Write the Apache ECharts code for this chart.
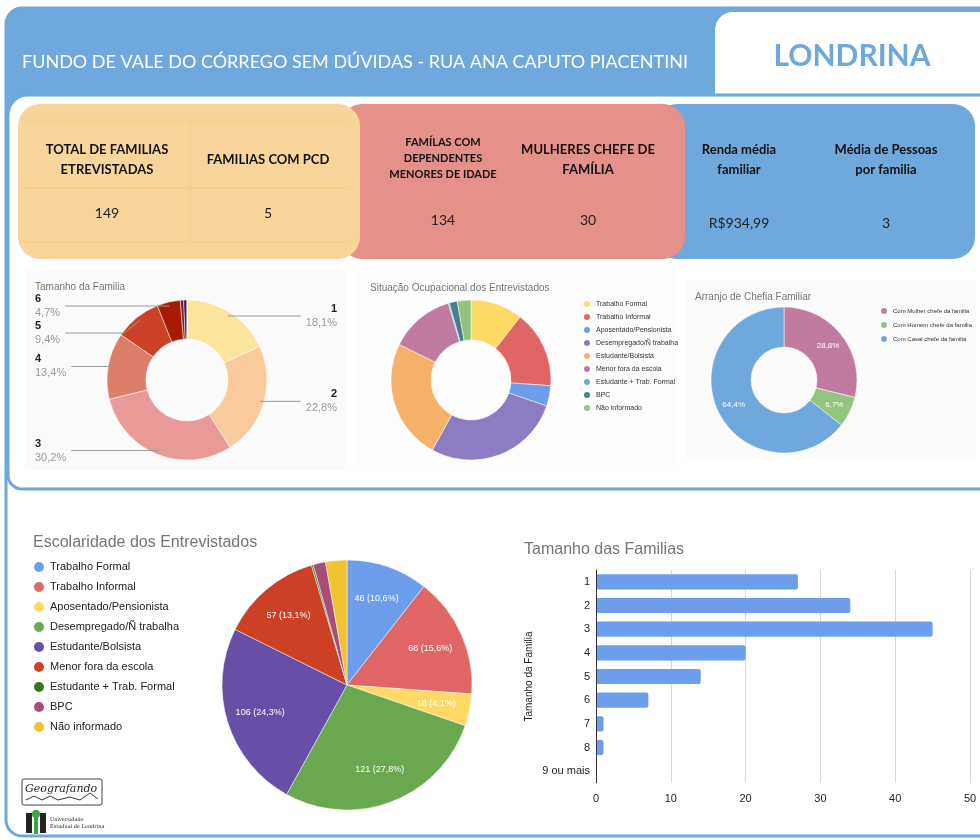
<!DOCTYPE html>
<html>
<head>
<meta charset="utf-8">
<script src="https://cdn.jsdelivr.net/npm/echarts@6/dist/echarts.min.js"></script>
<style>
  html, body { margin: 0; padding: 0; background: #fff; }
  #main { width: 980px; height: 840px; }
</style>
</head>
<body>
<div id="main"></div>
<script>
// dados do painel
const pageTitle = "FUNDO DE VALE DO CÓRREGO SEM DÚVIDAS - RUA ANA CAPUTO PIACENTINI";
const cityName = "LONDRINA";
const cardHeads = ["TOTAL DE FAMILIAS\nETREVISTADAS", "FAMILIAS COM PCD", "FAMÍLAS COM\nDEPENDENTES\nMENORES DE IDADE", "MULHERES CHEFE DE\nFAMÍLIA", "Renda média\nfamiliar", "Média de Pessoas\npor familia"];
const cardVals = ["149", "5", "134", "30", "R$934,99", "3"];

// tamanho da familia (numero de familias)
const famCats = ["1", "2", "3", "4", "5", "6", "7", "8", "9 ou mais"];
const famCounts = [27, 34, 45, 20, 14, 7, 1, 1, 0];

// situacao ocupacional / escolaridade
const ocupCats = ["Trabalho Formal", "Trabalho Informal", "Aposentado/Pensionista", "Desempregado/Ñ trabalha", "Estudante/Bolsista", "Menor fora da escola", "Estudante + Trab. Formal", "BPC", "Não informado"];
const ocupVals = [46, 68, 18, 121, 106, 57, 1, 7, 12];

// arranjo de chefia
const chefiaCats = ["Com Mulher chefe da familia", "Com Homem chefe da familia", "Com Casal chefe da familia"];
const chefiaVals = [30, 7, 67];

const famColors = ["#fde49c", "#f9cb9c", "#ea9999", "#dd7e6b", "#cc4125", "#a61c00", "#85200c", "#351c75", "#1c4587"];
const ocupColors = ["#ffd966", "#e06666", "#6d9eeb", "#8e7cc3", "#f6b26b", "#c27ba0", "#6fa8dc", "#45818e", "#93c47d"];
const escColors = ["#6d9eeb", "#e06666", "#ffd966", "#6aa84f", "#674ea7", "#cc4125", "#38761d", "#a64d79", "#f1c232"];
const chefiaColors = ["#c27ba0", "#93c47d", "#6fa8dc"];

const BLUE = "#6fa8dc";
const FONT = "'Liberation Sans', Arial, sans-serif";

const chart = echarts.init(document.getElementById("main"));

const sum = a => a.reduce((s, v) => s + v, 0);
const famTotal = sum(famCounts);
const ocupTotal = sum(ocupVals);
const chefiaTotal = sum(chefiaVals);
const pct = (v, t) => (Math.round(v / t * 1000) / 10).toFixed(1).replace(".", ",") + "%";

// cartoes do topo
const cardX = [107, 268, 443, 588, 739, 886];
const headEls = cardHeads.map((t, i) => ({
  type: "text", z: 10,
  style: {
    text: t, x: cardX[i], y: i === 2 ? 158 : 160,
    textAlign: "center", textVerticalAlign: "middle",
    font: (i === 2 ? "bold 11px " : "bold 13px ") + "Lato, sans-serif",
    lineHeight: i === 2 ? 16 : 20, fill: "#111"
  }
}));
const valEls = cardVals.map((t, i) => ({
  type: "text", z: 10,
  style: {
    text: t, x: cardX[i], y: i < 2 ? 213 : (i < 4 ? 220 : 223),
    textAlign: "center", textVerticalAlign: "middle",
    font: "14px Lato, sans-serif", fill: "#222"
  }
}));

chart.setOption({
  animation: false,
  textStyle: { fontFamily: FONT },
  graphic: [
    // moldura
    { type: "rect", z: 0, shape: { x: 6, y: 8, width: 1000, height: 828, r: 16 }, style: { fill: "#fff", stroke: BLUE, lineWidth: 3 } },
    { type: "rect", z: 1, shape: { x: 6, y: 8, width: 1000, height: 100, r: [16, 0, 0, 0] }, style: { fill: BLUE } },
    { type: "rect", z: 2, shape: { x: 715, y: 12, width: 280, height: 90, r: [18, 0, 0, 0] }, style: { fill: "#fff" } },
    { type: "text", z: 3, style: { text: cityName, x: 852, y: 56, textAlign: "center", textVerticalAlign: "middle", font: "bold 30px Lato, sans-serif", fill: BLUE } },
    { type: "text", z: 3, style: { text: pageTitle, x: 22, y: 62, textVerticalAlign: "middle", font: "18px Lato, sans-serif", fill: "#fff" } },
    { type: "rect", z: 2, shape: { x: 8, y: 95, width: 1000, height: 394, r: [20, 0, 0, 14] }, style: { fill: "#fff", stroke: BLUE, lineWidth: 3 } },
    // cartoes
    { type: "rect", z: 3, shape: { x: 655, y: 104, width: 320, height: 155, r: 22 }, style: { fill: BLUE } },
    { type: "rect", z: 4, shape: { x: 340, y: 104, width: 345, height: 155, r: 22 }, style: { fill: "#e6908a" } },
    { type: "rect", z: 5, shape: { x: 18, y: 104, width: 342, height: 155, r: 22 }, style: { fill: "#f9d59b" } },
    { type: "polyline", z: 6, shape: { points: [[22, 120], [350, 120]] }, style: { stroke: "#f3cc86", lineWidth: 1 } },
    { type: "polyline", z: 6, shape: { points: [[22, 242], [350, 242]] }, style: { stroke: "#f3cc86", lineWidth: 1 } },
    { type: "polyline", z: 6, shape: { points: [[22, 188], [350, 188]] }, style: { stroke: "#f3cc86", lineWidth: 1 } },
    { type: "polyline", z: 6, shape: { points: [[190, 120], [190, 242]] }, style: { stroke: "#f3cc86", lineWidth: 1 } },
    ...headEls, ...valEls,
    // fundos dos graficos
    { type: "rect", z: 3, shape: { x: 25, y: 270, width: 320, height: 200 }, style: { fill: "#fbfbfb" } },
    { type: "rect", z: 3, shape: { x: 355, y: 270, width: 320, height: 200 }, style: { fill: "#fdfdfd" } },
    { type: "rect", z: 3, shape: { x: 686, y: 280, width: 290, height: 180 }, style: { fill: "#fbfbfb" } },
    // logos
    { type: "rect", z: 3, shape: { x: 22, y: 779, width: 80, height: 26, r: 2 }, style: { fill: "#fff", stroke: "#444", lineWidth: 1 } },
    { type: "text", z: 4, style: { text: "Geografando", x: 25, y: 789, textVerticalAlign: "middle", font: "italic 11px 'DejaVu Serif', serif", fill: "#222" } },
    { type: "polyline", z: 4, shape: { points: [[26, 800], [34, 796], [42, 800], [50, 796], [58, 800], [70, 797], [80, 800], [90, 793], [98, 799]] }, style: { stroke: "#333", lineWidth: 1, fill: null } },
    { type: "rect", z: 3, shape: { x: 26, y: 813, width: 6, height: 20 }, style: { fill: "#222" } },
    { type: "rect", z: 3, shape: { x: 40, y: 813, width: 6, height: 20 }, style: { fill: "#222" } },
    { type: "rect", z: 3, shape: { x: 34, y: 816, width: 4, height: 18 }, style: { fill: "#3a3" } },
    { type: "circle", z: 3, shape: { cx: 36, cy: 814, r: 4 }, style: { fill: "#3a3" } },
    { type: "text", z: 3, style: { text: "Universidade\nEstadual de Londrina", x: 50, y: 823, textVerticalAlign: "middle", font: "5px 'DejaVu Serif', serif", lineHeight: 7, fill: "#222" } }
  ],
  title: [
    { text: "Tamanho da Familia", left: 30, top: 277, z: 20, textStyle: { fontSize: 10, fontWeight: "normal", color: "#757575" } },
    { text: "Situação Ocupacional dos Entrevistados", left: 365, top: 278, z: 20, textStyle: { fontSize: 10, fontWeight: "normal", color: "#757575" } },
    { text: "Arranjo de Chefia Familiar", left: 690, top: 287, z: 20, textStyle: { fontSize: 10, fontWeight: "normal", color: "#757575" } },
    { text: "Escolaridade dos Entrevistados", left: 28, top: 530, z: 20, textStyle: { fontSize: 16, fontWeight: "normal", color: "#757575" } },
    { text: "Tamanho das Familias", left: 519, top: 537, z: 20, textStyle: { fontSize: 16, fontWeight: "normal", color: "#757575" } }
  ],
  legend: [
    {
      orient: "vertical", left: 577, top: 294, z: 20, itemWidth: 8, itemHeight: 8, itemGap: 3, icon: "circle",
      selectedMode: false, textStyle: { fontSize: 7, color: "#333" },
      data: ocupCats.map((n, i) => ({ name: n, itemStyle: { color: ocupColors[i] } }))
    },
    {
      orient: "vertical", left: 874, top: 301, z: 20, itemWidth: 8, itemHeight: 8, itemGap: 4, icon: "circle",
      selectedMode: false, textStyle: { fontSize: 6, color: "#333" },
      data: chefiaCats.map((n, i) => ({ name: n, itemStyle: { color: chefiaColors[i] } }))
    },
    {
      orient: "vertical", left: 27, top: 555, z: 20, itemWidth: 12, itemHeight: 12, itemGap: 6, icon: "circle",
      selectedMode: false, textStyle: { fontSize: 11, color: "#222" },
      data: ocupCats.map((n, i) => ({ name: n, itemStyle: { color: escColors[i] } }))
    }
  ],
  grid: { left: 596, right: 10, top: 570, bottom: 57, z: 20 },
  xAxis: {
    type: "value", min: 0, max: 50, interval: 10, z: 20,
    axisLine: { show: false }, axisTick: { show: false },
    axisLabel: { fontSize: 11, color: "#222", margin: 10 },
    splitLine: { lineStyle: { color: "#d9d9d9" } }
  },
  yAxis: {
    type: "category", data: famCats, inverse: true, z: 21,
    name: "Tamanho da Familia", nameLocation: "middle", nameRotate: 90, nameGap: 62,
    nameTextStyle: { fontSize: 10, color: "#222" },
    axisLine: { lineStyle: { color: "#333" } }, axisTick: { show: false },
    axisLabel: { fontSize: 11, color: "#222", margin: 6 }
  },
  series: [
    {
      type: "pie", name: "Tamanho da Familia", z: 20,
      center: [187, 380], radius: [41, 80],
      itemStyle: { borderColor: "#fff", borderWidth: 0.5 },
      data: famCats.map((n, i) => ({ name: n, value: famCounts[i], itemStyle: { color: famColors[i] } })),
      label: { show: false }, labelLine: { show: false }
    },
    {
      // rótulos do donut, com a linha saindo de dentro da fatia
      type: "pie", name: "Tamanho da Familia rotulos", z: 21, silent: true,
      left: 35, top: 0, width: 302, height: 840,
      center: [152, 380], radius: [0, 76],
      itemStyle: { color: "rgba(0,0,0,0)" },
      data: famCats.map((n, i) => {
        const big = famCounts[i] / famTotal >= 0.03;
        return { name: n, value: famCounts[i], label: { show: big }, labelLine: { show: big } };
      }),
      label: {
        position: "outside", alignTo: "edge", edgeDistance: 0,
        formatter: p => "{n|" + p.name + "}\n{p|" + pct(p.value, famTotal) + "}",
        rich: {
          n: { fontSize: 11, fontWeight: "bold", color: "#222", lineHeight: 14 },
          p: { fontSize: 11, color: "#999", lineHeight: 14 }
        }
      },
      labelLine: { length: 0, length2: 10, lineStyle: { color: "#999", width: 1 } }
    },
    {
      type: "pie", name: "Situação Ocupacional", z: 20,
      center: [471, 380], radius: [40, 80],
      itemStyle: { borderColor: "#fff", borderWidth: 0.5 },
      data: ocupCats.map((n, i) => ({ name: n, value: ocupVals[i], itemStyle: { color: ocupColors[i] } })),
      label: { show: false }, labelLine: { show: false }
    },
    {
      type: "pie", name: "Arranjo de Chefia", z: 20,
      center: [784, 380], radius: [33, 73],
      itemStyle: { borderColor: "#fff", borderWidth: 0.5 },
      data: chefiaCats.map((n, i) => ({ name: n, value: chefiaVals[i], itemStyle: { color: chefiaColors[i] } })),
      label: { show: true, position: "inside", color: "#fff", fontSize: 8, formatter: p => pct(p.value, chefiaTotal) },
      labelLine: { show: false }
    },
    {
      type: "pie", name: "Escolaridade", z: 20,
      center: [347, 685], radius: [0, 125],
      itemStyle: { borderColor: "#fff", borderWidth: 0.5 },
      data: ocupCats.map((n, i) => ({ name: n, value: ocupVals[i], itemStyle: { color: escColors[i] } })),
      label: { show: false }, labelLine: { show: false }
    },
    {
      // rótulos da pizza de escolaridade, mais perto da borda
      type: "pie", name: "Escolaridade rotulos", z: 21, silent: true,
      center: [347, 685], radius: [51, 125],
      itemStyle: { color: "rgba(0,0,0,0)" },
      data: ocupCats.map((n, i) => ({ name: n, value: ocupVals[i] })),
      label: {
        show: true, position: "inside", color: "#fff", fontSize: 9,
        formatter: p => p.value / ocupTotal < 0.04 ? "" : p.value + " (" + pct(p.value, ocupTotal) + ")"
      },
      labelLine: { show: false }
    },
    {
      type: "bar", name: "Tamanho das Familias", z: 20,
      data: famCounts, barWidth: "64%",
      itemStyle: { color: "#6d9eeb", borderRadius: 2 }
    }
  ]
});
</script>
</body>
</html>
